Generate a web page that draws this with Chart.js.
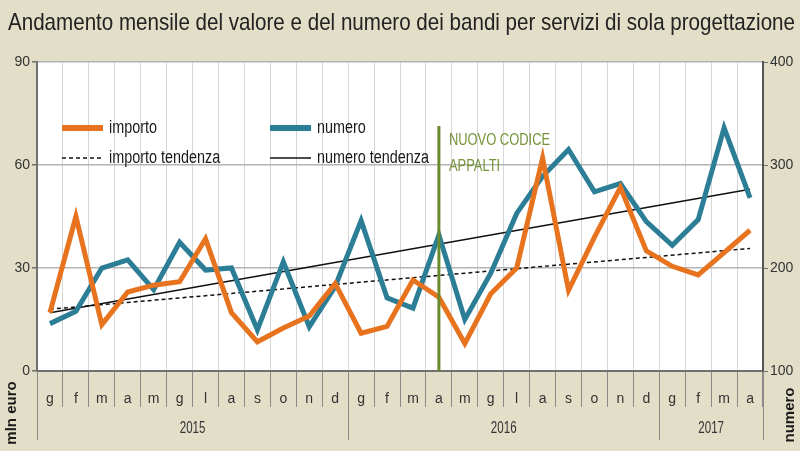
<!DOCTYPE html>
<html>
<head>
<meta charset="utf-8">
<script src="https://cdn.jsdelivr.net/npm/chart.js@4.4.1/dist/chart.umd.min.js"></script>
<style>
  html, body { margin: 0; padding: 0; background: #e2dec8; }
  #wrap { width: 800px; height: 451px; }
</style>
</head>
<body>
<div id="wrap"><canvas id="grafico" width="800" height="451"></canvas></div>
<script>
"use strict";

// mesi (gen 2015 - apr 2017)
const mesi = ["g","f","m","a","m","g","l","a","s","o","n","d",
              "g","f","m","a","m","g","l","a","s","o","n","d",
              "g","f","m","a"];
const anni = ["2015", "2016", "2017"];
const mesiPerAnno = [12, 12, 4];

// valore in mln euro (asse sinistro)
const importo = [17, 45, 13.5, 23, 25, 26, 38.5, 17, 8.5, 12.5, 16, 25.5,
                 11, 13, 26.5, 21.5, 8, 22.5, 30, 62, 23.5, 39, 53.5, 35,
                 30.5, 28, 34.5, 41];
// numero bandi (asse destro)
const numero = [146, 158, 200, 208, 179, 225, 198, 200, 140, 206, 143, 182,
                246, 171, 161, 232, 150, 195, 253, 289, 315, 274, 282, 245,
                222, 247, 336, 268];
// linee di tendenza: solo estremi
const importoTendenza = [18].concat(Array(26).fill(null), [35.7]);
const numeroTendenza = [156.5].concat(Array(26).fill(null), [276.5]);

const yTicksSx = [0, 30, 60, 90];
const yTicksDx = [100, 200, 300, 400];

const FONT = "'Liberation Sans', Arial, sans-serif";
const SFONDO = "#e2dec8";
const ARANCIO = "#e8731f";
const BLU = "#2c7d96";
const VERDE = "#6b8a2c";

// testo "stretto" (non c'e' un font condensed installato)
function testoStretto(ctx, testo, x, y, sx) {
  ctx.save();
  ctx.translate(x, y);
  ctx.scale(sx, 1);
  ctx.fillText(testo, 0, 0);
  ctx.restore();
}

// sfondo, titolo, legenda, nota e anni
const decoPlugin = {
  id: "deco",
  beforeDraw(chart) {
    const ctx = chart.ctx;
    const a = chart.chartArea;
    ctx.save();
    ctx.fillStyle = SFONDO;
    ctx.fillRect(0, 0, chart.width, chart.height);
    ctx.fillStyle = "#ffffff";
    ctx.fillRect(a.left, a.top, a.right - a.left, a.bottom - a.top);
    ctx.restore();
  },
  afterDraw(chart) {
    const ctx = chart.ctx;
    const a = chart.chartArea;
    const x = chart.scales.x;
    ctx.save();

    // titolo
    const titolo = "Andamento mensile del valore e del numero dei bandi per servizi di sola progettazione";
    ctx.fillStyle = "#222";
    ctx.font = "24px " + FONT;
    ctx.textBaseline = "middle";
    ctx.textAlign = "left";
    testoStretto(ctx, titolo, 8, 23, 787 / ctx.measureText(titolo).width);

    // anni + separatori
    let start = 0;
    ctx.strokeStyle = "#8a8a8a";
    ctx.lineWidth = 1;
    ctx.font = "17px " + FONT;
    ctx.textAlign = "center";
    ctx.fillStyle = "#333";
    for (let i = 0; i < anni.length; i++) {
      const end = start + mesiPerAnno[i] - 1;
      const half = (x.getPixelForValue(1) - x.getPixelForValue(0)) / 2;
      const x0 = x.getPixelForValue(start) - half;
      const x1 = x.getPixelForValue(end) + half;
      testoStretto(ctx, anni[i], (x0 + x1) / 2, a.bottom + 57, 0.68);
      [x0, x1].forEach(function (px) {
        ctx.beginPath();
        ctx.moveTo(Math.round(px) + 0.5, a.bottom);
        ctx.lineTo(Math.round(px) + 0.5, a.bottom + 69);
        ctx.stroke();
      });
      start = end + 1;
    }

    // nuovo codice appalti (aprile 2016)
    const xa = x.getPixelForValue(15);
    ctx.strokeStyle = VERDE;
    ctx.lineWidth = 3;
    ctx.beginPath();
    ctx.moveTo(xa, a.top + 64);
    ctx.lineTo(xa, a.bottom);
    ctx.stroke();
    ctx.fillStyle = "#759339";
    ctx.font = "17px " + FONT;
    ctx.textAlign = "left";
    testoStretto(ctx, "NUOVO CODICE", xa + 10, a.top + 78, 0.76);
    testoStretto(ctx, "APPALTI", xa + 10, a.top + 104, 0.76);

    // legenda
    const ds = chart.data.datasets;
    const voci = [
      { d: ds[0], x: 62, y: a.top + 66 },
      { d: ds[1], x: 270, y: a.top + 66 },
      { d: ds[2], x: 62, y: a.top + 96 },
      { d: ds[3], x: 270, y: a.top + 96 }
    ];
    ctx.font = "18px " + FONT;
    voci.forEach(function (v) {
      ctx.strokeStyle = v.d.borderColor;
      ctx.lineWidth = v.d.borderWidth === 5 ? 6 : 1.5;
      ctx.setLineDash(v.d.borderDash || []);
      ctx.beginPath();
      ctx.moveTo(v.x, v.y);
      ctx.lineTo(v.x + 41, v.y);
      ctx.stroke();
      ctx.setLineDash([]);
      ctx.fillStyle = "#1a1a1a";
      testoStretto(ctx, v.d.label, v.x + 47, v.y, 0.8);
    });

    // titoli assi
    ctx.font = "bold 15px " + FONT;
    ctx.fillStyle = "#1a1a1a";
    ctx.textAlign = "center";
    ctx.save();
    ctx.translate(12, 413);
    ctx.rotate(-Math.PI / 2);
    ctx.fillText("mln euro", 0, 0);
    ctx.restore();
    ctx.save();
    ctx.translate(790, 415);
    ctx.rotate(-Math.PI / 2);
    ctx.fillText("numero", 0, 0);
    ctx.restore();
    ctx.restore();
  }
};

const ctx = document.getElementById("grafico");
new Chart(ctx, {
  type: "line",
  data: {
    labels: mesi,
    datasets: [
      { label: "importo", data: importo, yAxisID: "y", borderColor: ARANCIO, borderWidth: 5 },
      { label: "numero", data: numero, yAxisID: "y2", borderColor: BLU, borderWidth: 5 },
      { label: "importo tendenza", data: importoTendenza, yAxisID: "y", borderColor: "#111", borderWidth: 1.5, borderDash: [4, 3], spanGaps: true },
      { label: "numero tendenza", data: numeroTendenza, yAxisID: "y2", borderColor: "#111", borderWidth: 1.5, spanGaps: true }
    ]
  },
  options: {
    responsive: false,
    animation: false,
    devicePixelRatio: 1,
    layout: { padding: { top: 62, left: 0, right: 0, bottom: 0 } },
    elements: {
      point: { radius: 0 },
      line: { tension: 0, borderCapStyle: "butt", borderJoinStyle: "miter" }
    },
    plugins: {
      legend: { display: false },
      tooltip: { enabled: false }
    },
    scales: {
      x: {
        offset: true,
        grid: {
          offset: true,
          color: "#d6d6d6",
          tickColor: "#8a8a8a",
          tickLength: 36,
          lineWidth: 1
        },
        border: { color: "#707070", width: 2 },
        ticks: {
          autoSkip: false,
          maxRotation: 0,
          padding: -16,
          color: "#333",
          font: { family: FONT, size: 14 }
        },
        afterFit(scale) { scale.height = 80; }
      },
      y: {
        position: "left",
        min: 0,
        max: 90,
        afterBuildTicks(scale) { scale.ticks = yTicksSx.map(v => ({ value: v })); },
        grid: { color: "#b4b4b4", lineWidth: 1.5, tickLength: 5, tickColor: "#707070" },
        border: { color: "#707070", width: 2 },
        ticks: { color: "#333", padding: 2, font: { family: FONT, size: 14 } },
        afterFit(scale) { scale.width = 37; }
      },
      y2: {
        position: "right",
        min: 100,
        max: 400,
        afterBuildTicks(scale) { scale.ticks = yTicksDx.map(v => ({ value: v })); },
        grid: { drawOnChartArea: false, tickLength: 5, tickColor: "#707070" },
        border: { color: "#555", width: 2 },
        ticks: { color: "#333", padding: 2, font: { family: FONT, size: 14 } },
        afterFit(scale) { scale.width = 37; }
      }
    }
  },
  plugins: [decoPlugin]
});
</script>
</body>
</html>
